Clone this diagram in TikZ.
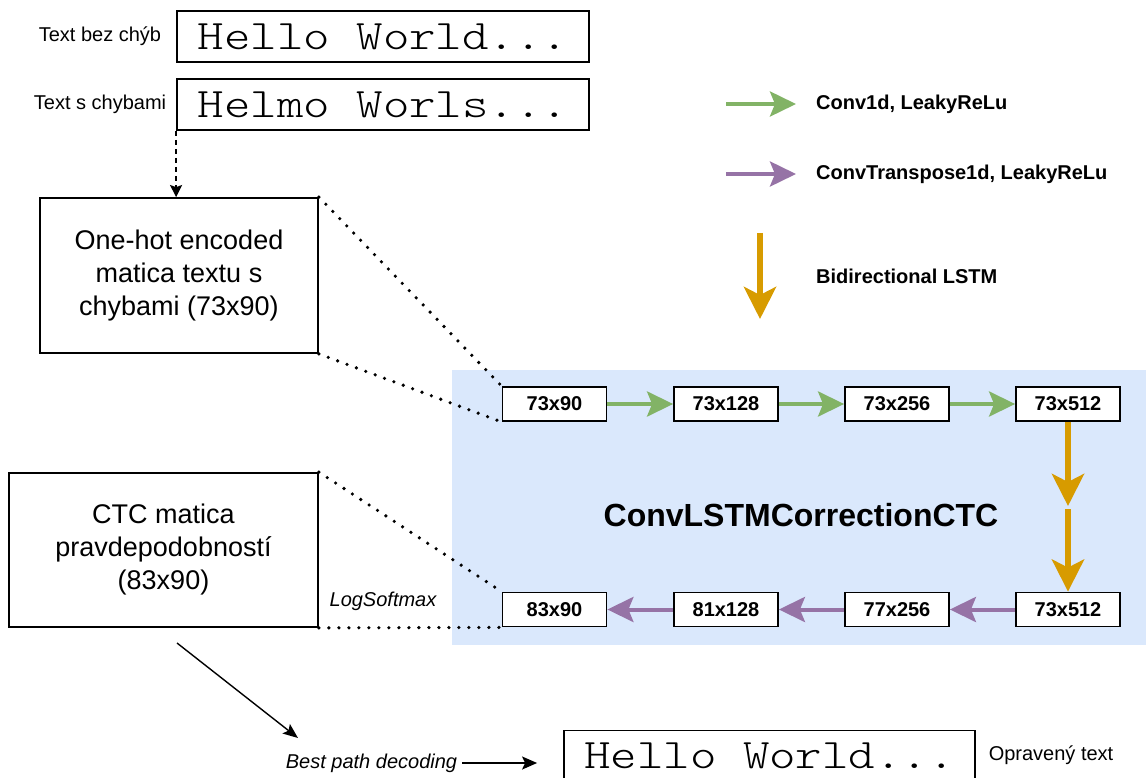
\documentclass[tikz,border=0pt]{standalone}
\usepackage{graphicx}
\usepackage{fontspec}
\setmainfont{Liberation Sans}
\newfontfamily\lightmono{Latin Modern Mono Light}
\usetikzlibrary{arrows.meta}

\definecolor{convgreen}{HTML}{82B366}
\definecolor{convpurple}{HTML}{9673A6}
\definecolor{lstmorange}{HTML}{D79B00}
\definecolor{panelblue}{HTML}{DAE8FC}

\newcommand{\monotext}[1]{\scalebox{1.2}[1]{\fontsize{42}{48}\selectfont\lightmono #1}}

\begin{document}
\begin{tikzpicture}[x=1pt,y=-1pt,
  small/.style={font=\fontsize{20}{24}\selectfont, inner sep=0pt},
  smallbold/.style={font=\bfseries\fontsize{20}{24}\selectfont, inner sep=0pt},
  smallit/.style={font=\itshape\fontsize{20}{24}\selectfont, inner sep=0pt},
  textbox/.style={draw, line width=1.8pt, fill=white, inner sep=0pt,
    minimum width=412pt, minimum height=51pt},
  matbox/.style={draw, line width=1.8pt, fill=white, inner sep=0pt, align=center,
    font=\fontsize{27}{33}\selectfont},
  dimbox/.style={draw, line width=1.8pt, fill=white, inner sep=0pt,
    minimum width=104pt, minimum height=34pt, font=\bfseries\fontsize{20}{24}\selectfont},
  convarrow/.style={line width=4pt, convgreen, -{Stealth[length=26pt, width=25pt, inset=5pt]}},
  deconvarrow/.style={line width=4pt, convpurple, -{Stealth[length=26pt, width=25pt, inset=5pt]}},
  lstmarrow/.style={line width=6pt, lstmorange, -{Stealth[length=32pt, width=32pt, inset=8pt]}},
  dotline/.style={line width=3.6pt, dash pattern=on 0pt off 10pt, line cap=round},
]
\useasboundingbox (0,0) rectangle (1146,778);
\clip (0,0) rectangle (1146,778);

% model panel
\fill[panelblue] (452,370) rectangle (1146,645);
\node[font=\bfseries\fontsize{32}{38}\selectfont, inner sep=0pt] (title) at (801,515) {ConvLSTMCorrectionCTC};

% input texts
\node[small] (lblclean) at (100,36) {Text bez chýb};
\node[small] (lblnoisy) at (100,104) {Text s chybami};
\node[textbox] (clean) at (383,36.5) {\monotext{Hello World...}};
\node[textbox] (noisy) at (383,104.5) {\monotext{Helmo Worls...}};

% matrices
\node[matbox, minimum width=278pt, minimum height=155pt] (onehot) at (179,275.5)
  {One-hot encoded\\matica textu s\\chybami (73x90)};
\node[matbox, minimum width=309pt, minimum height=154pt] (ctc) at (163.5,550)
  {CTC matica\\pravdepodobností\\(83x90)};

% encoder row
\node[dimbox] (t1) at (554.5,404) {73x90};
\node[dimbox] (t2) at (726,404) {73x128};
\node[dimbox] (t3) at (897,404) {73x256};
\node[dimbox] (t4) at (1068,404) {73x512};

% decoder row
\node[dimbox] (b1) at (554.5,609.5) {83x90};
\node[dimbox] (b2) at (726,609.5) {81x128};
\node[dimbox] (b3) at (897,609.5) {77x256};
\node[dimbox] (b4) at (1068,609.5) {73x512};

\draw[convarrow] (t1) -- (t2);
\draw[convarrow] (t2) -- (t3);
\draw[convarrow] (t3) -- (t4);
\draw[deconvarrow] (b4) -- (b3);
\draw[deconvarrow] (b3) -- (b2);
\draw[deconvarrow] (b2) -- (b1);

\coordinate (lstmA) at (1068,506);
\coordinate (lstmB) at (1068,509);
\draw[lstmarrow] (t4.south) -- (lstmA);
\draw[lstmarrow] (lstmB) -- (b4.north);

% dotted links between matrices and the panel
\draw[dotline] (onehot.north east) -- (t1.north west);
\draw[dotline] (onehot.south east) -- (t1.south west);
\draw[dotline] (ctc.north east) -- (b1.north west);
\draw[dotline] (ctc.south east) -- (b1.south west);
\node[smallit] (logsm) at (383,601) {LogSoftmax};

% noisy text -> one-hot matrix
\draw[line width=1.8pt, dash pattern=on 5pt off 4pt, -{Stealth[length=12pt, width=12pt, inset=2pt]}]
  (noisy.south west) -- (noisy.south west |- onehot.north);

% decoding
\coordinate (decA) at (177,643);
\coordinate (decB) at (298,738);
\draw[line width=1.4pt, -{Stealth[length=15pt, width=12pt, inset=3pt]}] (decA) -- (decB);
\node[smallit] (bpd) at (371.5,763) {Best path decoding};
\node[textbox, minimum width=411pt] (out) at (769.5,756) {\monotext{Hello World...}};
\node[small] (lblout) at (1051,755) {Opravený text};
\draw[line width=1.6pt, -{Stealth[length=15pt, width=13pt, inset=3pt]}]
  ([xshift=5pt]bpd.east) -- ([xshift=-26pt]out.west |- bpd.east);

% legend
\coordinate (lg1a) at (726,104);
\coordinate (lg1b) at (796,104);
\coordinate (lg2a) at (726,174);
\coordinate (lg2b) at (796,174);
\coordinate (lg3a) at (760,233);
\coordinate (lg3b) at (760,319);
\draw[convarrow] (lg1a) -- (lg1b);
\draw[deconvarrow] (lg2a) -- (lg2b);
\draw[lstmarrow] (lg3a) -- (lg3b);
\node[smallbold, anchor=west] (lgt1) at (816,104) {Conv1d, LeakyReLu};
\node[smallbold, anchor=west] (lgt2) at (816,174) {ConvTranspose1d, LeakyReLu};
\node[smallbold, anchor=west] (lgt3) at (816,276) {Bidirectional LSTM};
\end{tikzpicture}
\end{document}
